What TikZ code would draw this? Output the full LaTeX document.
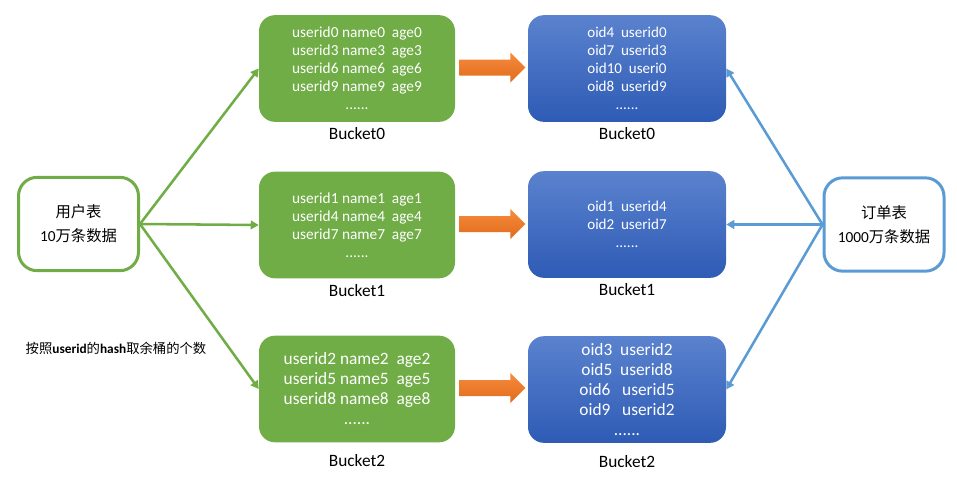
\documentclass[tikz,border=0pt]{standalone}
\usepackage{fontspec}
\setmainfont{Carlito}
\newfontfamily\cjk{Noto Sans CJK SC}
\usetikzlibrary{positioning,arrows.meta}
\definecolor{grn}{HTML}{70AD47}
\definecolor{blu}{HTML}{5B9BD5}
\definecolor{bltop}{HTML}{5A82CE}
\definecolor{blbot}{HTML}{2E5BB5}
\definecolor{orgtop}{HTML}{F68B3C}
\definecolor{orgbot}{HTML}{E26B1C}
\begin{document}
\begin{tikzpicture}[x=0.75pt, y=-0.75pt, line join=round, >={Triangle[length=6pt,width=6.5pt]},
	tbl/.style={draw, line width=2.25pt, rounded corners=14pt, minimum width=90pt, minimum height=70pt, align=center, font=\fontsize{11.5}{18}\selectfont},
	gbox/.style={fill=grn, rounded corners=12pt, minimum width=147pt, minimum height=80pt, align=center, text=white, font=\fontsize{11.5}{13.5}\selectfont},
	bbox/.style={top color=bltop, bottom color=blbot, rounded corners=12pt, minimum width=148.5pt, minimum height=80pt, align=center, text=white, font=\fontsize{11.3}{13.5}\selectfont},
	lab/.style={font=\fontsize{13}{14}\selectfont, inner sep=2pt}]
	\useasboundingbox (0,0) rectangle (957,480);
	% tables
	\node[tbl, draw=grn] (U) at (78.5,224) {{\cjk 用户表}\\10{\cjk 万条数据}};
	\node[tbl, draw=blu] (O) at (884,224.5) {{\cjk 订单表}\\1000{\cjk 万条数据}};
	% user buckets
	\node[gbox] (G0) at (357,68.5) {userid0 name0~ age0\\userid3 name3~ age3\\userid6 name6~ age6\\userid9 name9~ age9\\......};
	\node[gbox] (G1) at (357,225) {userid1 name1~ age1\\userid4 name4~ age4\\userid7 name7~ age7\\......};
	\node[gbox, font=\fontsize{13}{15}\selectfont] (G2) at (357,389) {userid2 name2~ age2\\userid5 name5~ age5\\userid8 name8~ age8\\......};
	% order buckets
	\node[bbox] (B0) at (627,68.5) {oid4~ userid0\\oid7~ userid3\\oid10~ useri0\\oid8~ userid9\\......};
	\node[bbox] (B1) at (627,224.5) {oid1~ userid4\\oid2~ userid7\\......};
	\node[bbox, font=\fontsize{13}{15}\selectfont] (B2) at (627,389.5) {oid3~ userid2\\oid5~ userid8\\oid6~~ userid5\\oid9~~ userid2\\......};
	\foreach \n/\g in {0/2pt,1/2pt,2/7pt}{
		\node[lab, below=\g of G\n] (LG\n) {Bucket\n};
		\node[lab, below=\g of B\n] (LB\n) {Bucket\n};
		\path (G\n.east)+(4,-1) coordinate (s\n);
		\shade[top color=orgtop, bottom color=orgbot] (s\n)++(0,-8)--++(51,0)--++(0,-7)--++(15,15)--++(-15,15)--++(0,-7)--++(-51,0)--cycle;
		\draw[->, grn, line width=1.9pt] (U.east)--(G\n.west);
		\draw[->, blu, line width=1.9pt] (O.west)--(B\n.east);
	}
	\node[font=\fontsize{10}{11}\selectfont] (N) at (116,348) {{\cjk 按照}\textbf{userid}{\cjk 的}\textbf{hash}{\cjk 取余桶的个数}};
\end{tikzpicture}
\end{document}
